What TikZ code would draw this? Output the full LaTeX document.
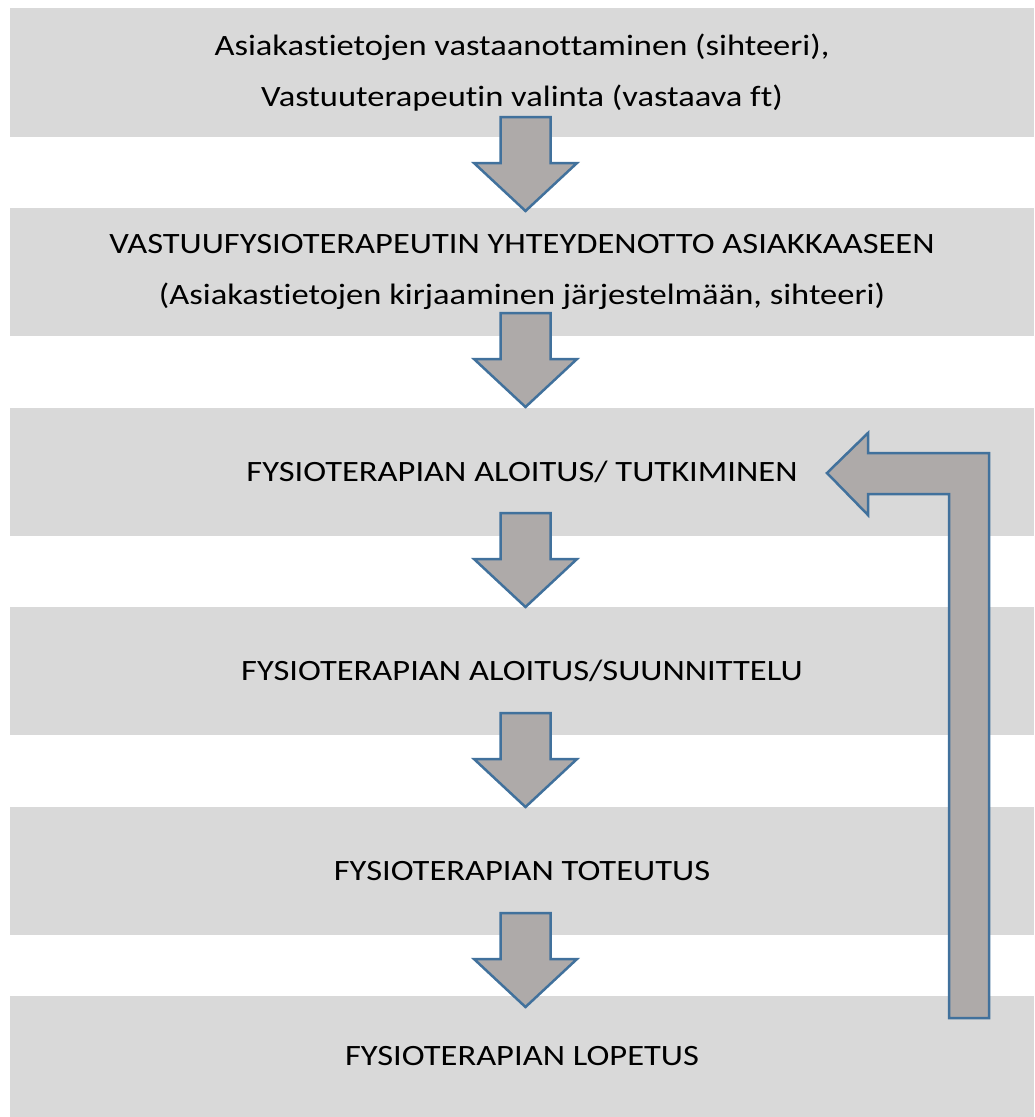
\documentclass[tikz,border=0pt]{standalone}
\usepackage{fontspec}
\setmainfont{Carlito}[FakeStretch=1.17, Ligatures={NoCommon}]

\definecolor{bandgray}{RGB}{217,217,217}
\definecolor{arrowfill}{RGB}{174,170,169}
\definecolor{arrowline}{RGB}{65,113,156}

\tikzset{
  band/.style={fill=bandgray, minimum width=1024pt, inner sep=0pt, align=center,
    font={\fontsize{29.5}{51.5}\selectfont}},
  blockarrow/.style={draw=arrowline, fill=arrowfill, line width=2.5pt, line join=miter}
}

\begin{document}
\begin{tikzpicture}[x=1pt, y=-1pt]

\useasboundingbox (0,0) rectangle (1034,1117);

\node [band, minimum height=129pt] (s1) at (522,72.5) {Asiakastietojen vastaanottaminen (sihteeri),\\
Vastuuterapeutin valinta (vastaava ft)};

\node [band, minimum height=128pt] (s2) at (522,272) {VASTUUFYSIOTERAPEUTIN YHTEYDENOTTO ASIAKKAASEEN\\
(Asiakastietojen kirjaaminen järjestelmään, sihteeri)};

\node [band, minimum height=128pt] (s3) at (522,472) {FYSIOTERAPIAN ALOITUS/ TUTKIMINEN};

\node [band, minimum height=128pt] (s4) at (522,671) {FYSIOTERAPIAN ALOITUS/SUUNNITTELU};

\node [band, minimum height=128pt] (s5) at (522,871) {FYSIOTERAPIAN TOTEUTUS};

\node [band, minimum height=121pt] (s6) at (522,1056.5) {FYSIOTERAPIAN LOPETUS};

% down arrows between the steps
\foreach \y in {117,313,513,713,913}
  \draw [blockarrow] (500.5,\y) -- ++(50,0) -- ++(0,46) -- ++(26.5,0) -- ++(-51.5,48)
    -- ++(-51.5,-48) -- ++(26.5,0) -- cycle;

% return arrow from the end back to the start
\draw [blockarrow] (827,473) -- (868,433) -- (868,453) -- (989,453) -- (989,1018)
  -- (949,1018) -- (949,494) -- (868,494) -- (868,515) -- cycle;

\end{tikzpicture}
\end{document}
